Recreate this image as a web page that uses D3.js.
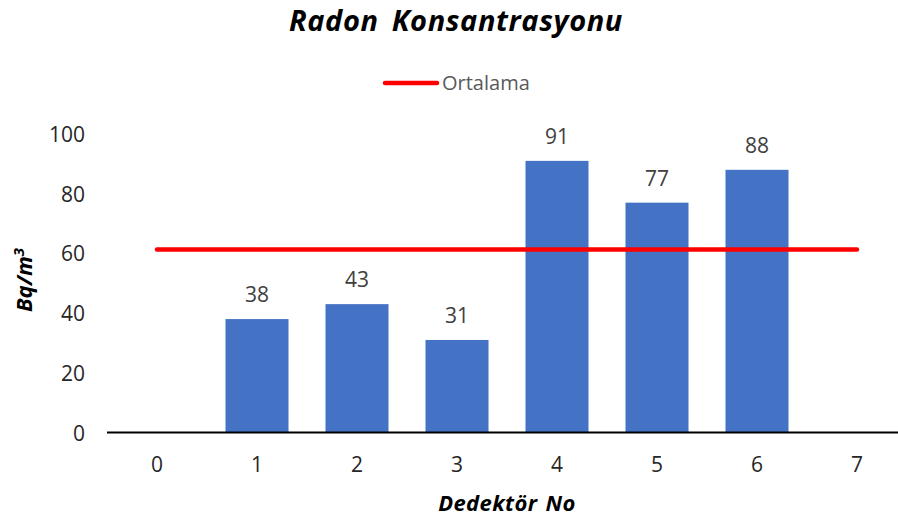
<!DOCTYPE html>
<html>
<head>
<meta charset="utf-8">
<script src="https://cdn.jsdelivr.net/npm/d3@7"></script>
<style>
body{margin:0;background:#fff}
text{font-family:"Open Sans","Noto Sans",sans-serif}
</style>
</head>
<body>
<div id="main"></div>
<script>
// degerler
const kategoriler=[0,1,2,3,4,5,6,7]
const dedektorler=[1,2,3,4,5,6]
const degerler=[38,43,31,91,77,88]
const ortalama=61.3
const yTicks=[0,20,40,60,80,100]

let svg=d3.select("#main").append("svg").attr("width",898).attr("height",519)

let x=d3.scaleBand().domain(kategoriler).range([107,907]).paddingInner(0.37).paddingOuter(0.185)
let y=d3.scaleLinear().domain([0,100]).range([432.5,134])

// baslik
svg.append("text").text("Radon Konsantrasyonu")
.attr("x",456).attr("y",31).attr("text-anchor","middle")
.style("font-size","29px").style("font-weight","bold").style("font-style","italic")
.style("letter-spacing","0.6px").style("word-spacing","5px").attr("fill","#000")

// legend
svg.append("line").attr("x1",385).attr("x2",437).attr("y1",83).attr("y2",83)
.attr("stroke","#ff0000").attr("stroke-width",4.5).attr("stroke-linecap","round")
svg.append("text").text("Ortalama").attr("x",442).attr("y",90)
.style("font-size","20px").attr("fill","#595959")

// y axis labels
svg.selectAll(".ytick").data(yTicks).enter().append("text")
.attr("class","ytick")
.attr("x",85).attr("y",d=>y(d)+8).attr("text-anchor","end")
.style("font-size","21px").attr("fill","#262626")
.text(d=>d)

// bars
svg.selectAll(".bar").data(dedektorler).enter().append("rect")
.attr("class","bar")
.attr("x",d=>x(d)).attr("width",x.bandwidth())
.attr("y",(d,i)=>y(degerler[i])).attr("height",(d,i)=>y(0)-y(degerler[i]))
.attr("fill","#4472c4")

// bar labels
svg.selectAll(".lbl").data(dedektorler).enter().append("text")
.attr("class","lbl")
.attr("x",d=>x(d)+x.bandwidth()/2).attr("y",(d,i)=>y(degerler[i])-17)
.attr("text-anchor","middle").style("font-size","21px").attr("fill","#404040")
.text((d,i)=>degerler[i])

// x axis
svg.append("line").attr("x1",107).attr("x2",907).attr("y1",y(0)).attr("y2",y(0))
.attr("stroke","#000").attr("stroke-width",2)

svg.selectAll(".xtick").data(kategoriler).enter().append("text")
.attr("class","xtick")
.attr("x",d=>x(d)+x.bandwidth()/2).attr("y",472).attr("text-anchor","middle")
.style("font-size","21px").attr("fill","#262626")
.text(d=>d)

// ortalama cizgisi
let ortLine=d3.line().x(d=>x(d)+x.bandwidth()/2).y(d=>y(ortalama))
svg.append("path").datum([kategoriler[0],kategoriler[kategoriler.length-1]])
.attr("d",ortLine).attr("fill","none").attr("stroke","#ff0000").attr("stroke-width",4.5).attr("stroke-linecap","round")

// eksen basliklari
svg.append("text").text("Dedektör No").attr("x",507).attr("y",511).attr("text-anchor","middle")
.style("font-size","22px").style("font-weight","bold").style("font-style","italic")
.style("letter-spacing","0.4px").style("word-spacing","2px").attr("fill","#000")

let yt=svg.append("text").attr("transform","translate(32,280) rotate(-90)").attr("text-anchor","middle")
.style("font-size","22px").style("font-weight","bold").style("font-style","italic").attr("fill","#000")
yt.append("tspan").text("Bq/m")
yt.append("tspan").text("3").attr("dy",-8).style("font-size","15px")
</script>
</body>
</html>
